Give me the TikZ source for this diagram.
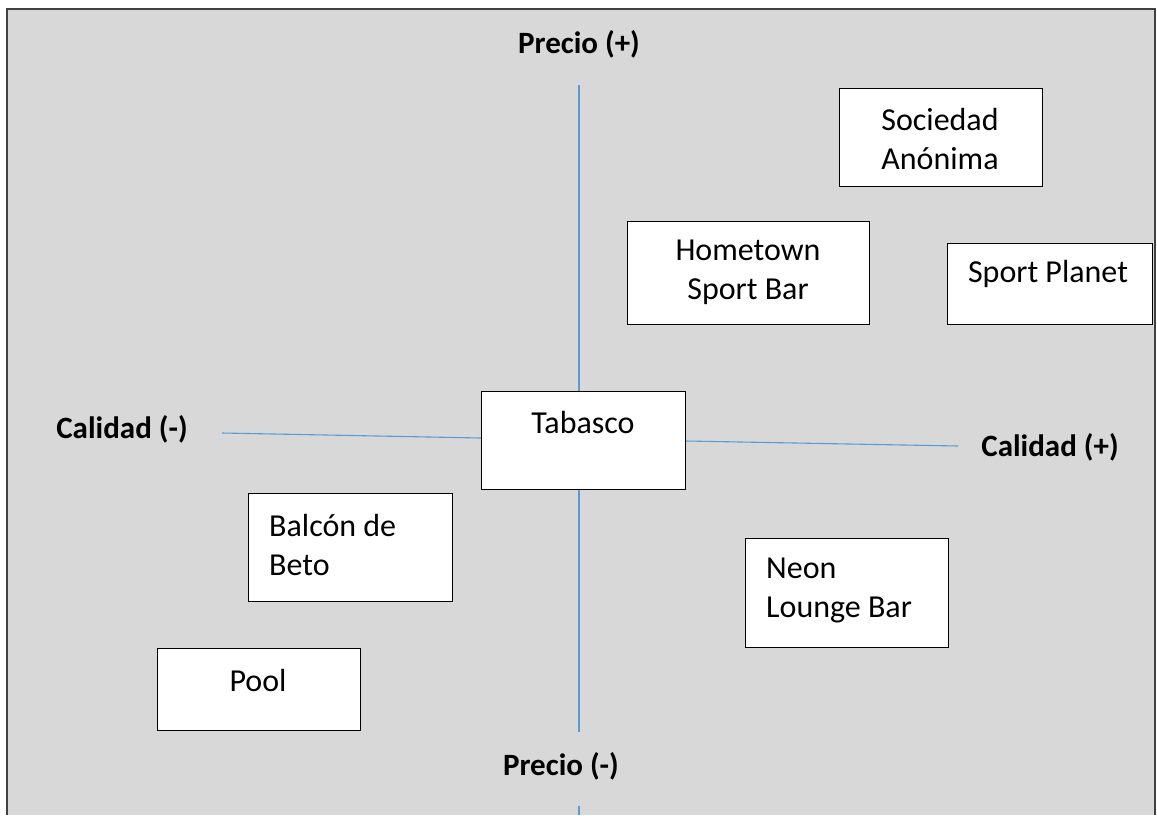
\documentclass[tikz,border=0pt]{standalone}
\usepackage{fontspec}
\setmainfont{Carlito}
\begin{document}
\begin{tikzpicture}[x=1pt,y=-1pt,
  box/.style={draw=black, line width=1.2pt, fill=white, inner sep=0pt, anchor=north west},
  txt/.style={font=\fontsize{32}{39}\selectfont, inner sep=0pt, align=center},
  txtl/.style={font=\fontsize{32}{39}\selectfont, inner sep=0pt, align=left, anchor=west},
  lab/.style={font=\fontsize{31}{37}\selectfont\bfseries, inner sep=0pt},
  axis/.style={draw={rgb,255:red,91;green,155;blue,213}, line width=1.1pt}]
\useasboundingbox (0,0) rectangle (1157,815);
\fill[white] (0,0) rectangle (1157,815);
\fill[gray!30!white, fill={rgb,255:red,216;green,216;blue,216}] (7,9) rectangle (1155,815);
\draw[line width=1.6pt, black!75] (7,815) -- (7,9) -- (1155,9) -- (1155,815);

% coordinates for free ends
\coordinate (vtop) at (579,85);
\coordinate (vbot) at (579,732);
\coordinate (vb1) at (579,806);
\coordinate (vb2) at (579,815);
\coordinate (hl) at (222,433);
\coordinate (hr) at (958,446);

% boxes
\node[box, minimum width=204pt, minimum height=98pt] (tab) at (481,391) {};
\node[txt] (tabt) at (583,422) {Tabasco};

\node[box, minimum width=203pt, minimum height=98pt] (soc) at (839,88) {};
\node[txt] (soct) at (940,139) {Sociedad\\An\'onima};

\node[box, minimum width=242pt, minimum height=103pt] (home) at (627,221) {};
\node[txt] (homet) at (748,272) {Hometown\\Sport Bar};

\node[box, minimum width=205pt, minimum height=81pt] (sp) at (947,243) {};
\node[txt] (spt) at (1048,274) {Sport Planet};

\node[box, minimum width=204pt, minimum height=108pt] (bal) at (248,493) {};
\node[txtl] (balt) at (269,545) {Balc\'on de\\Beto};

\node[box, minimum width=203pt, minimum height=109pt] (neon) at (745,538) {};
\node[txtl] (neont) at (766,590) {Neon\\Lounge Bar};

\node[box, minimum width=203pt, minimum height=82pt] (pool) at (157,648) {};
\node[txt] (poolt) at (258,680) {Pool};

% axis labels
\node[lab] (pp) at (579,44) {Precio (+)};
\node[lab] (pm) at (561,766) {Precio (-)};
\node[lab] (cm) at (122,429) {Calidad (-)};
\node[lab] (cp) at (1050,447) {Calidad (+)};

% axes
\draw[axis] (vtop) -- (tab.north -| vtop);
\draw[axis] (tab.south -| vtop) -- (vbot);
\draw[axis] (vb1) -- (vb2);
\draw[axis] (hl) -- (tab.west |- 0,438);
\draw[axis] (tab.east |- 0,441) -- (hr);
\end{tikzpicture}
\end{document}
